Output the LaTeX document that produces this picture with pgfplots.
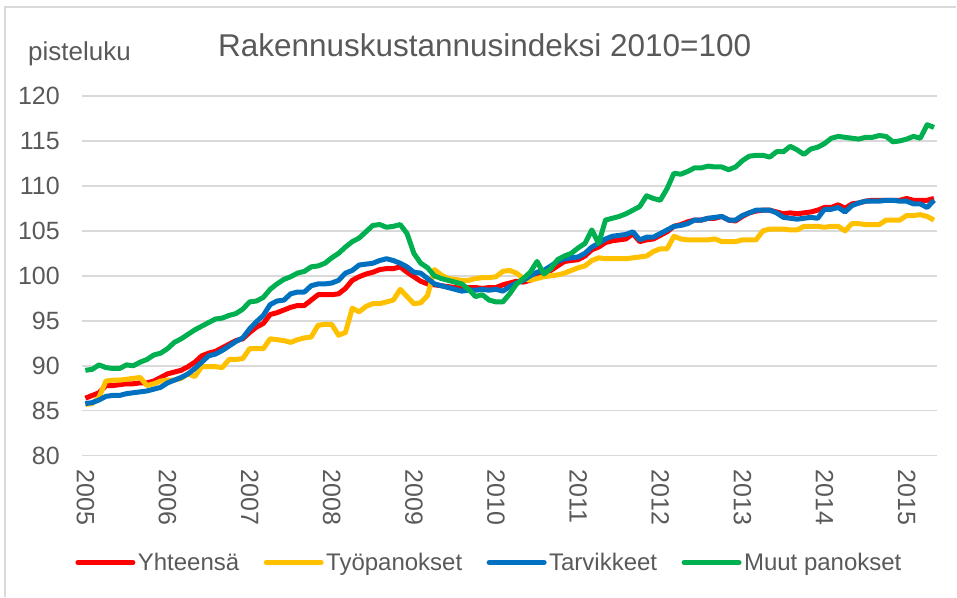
\documentclass[border=0pt]{standalone}
\usepackage{pgfplots}
\usepackage{pgfplotstable}
\usepackage{fontspec}
\setmainfont{Liberation Sans}
\pgfplotsset{compat=1.18}

\definecolor{cRed}{HTML}{FF0000}
\definecolor{cYel}{HTML}{FFC000}
\definecolor{cBlu}{HTML}{0070C0}
\definecolor{cGrn}{HTML}{00B050}
\definecolor{cTxt}{HTML}{595959}
\definecolor{cGrid}{HTML}{D9D9D9}

% month index (0 = 2005/01), Yhteensa, Tyopanokset, Tarvikkeet, Muut panokset
\pgfplotstableread{
m   yht    tyo    tar    muu
0   86.4   85.7   85.8   89.5
1   86.7   85.8   85.9   89.6
2   87.0   86.5   86.2   90.1
3   87.8   88.3   86.6   89.8
4   87.8   88.4   86.7   89.7
5   87.9   88.4   86.7   89.7
6   88.0   88.5   86.9   90.1
7   88.0   88.6   87.0   90.0
8   88.1   88.7   87.1   90.4
9   88.1   87.8   87.2   90.7
10  88.3   88.0   87.4   91.2
11  88.7   88.3   87.6   91.4
12  89.1   88.4   88.1   91.9
13  89.3   88.4   88.4   92.6
14  89.5   88.6   88.7   93.0
15  89.9   89.1   89.1   93.5
16  90.4   88.8   89.7   94.0
17  91.1   89.9   90.4   94.4
18  91.4   89.9   91.1   94.8
19  91.6   89.9   91.3   95.2
20  92.0   89.8   91.7   95.3
21  92.4   90.7   92.2   95.6
22  92.8   90.7   92.7   95.8
23  93.0   90.8   93.1   96.3
24  93.7   91.9   94.1   97.1
25  94.3   91.9   94.9   97.2
26  94.7   91.9   95.6   97.6
27  95.7   93.0   96.8   98.5
28  95.9   92.9   97.2   99.1
29  96.2   92.8   97.3   99.6
30  96.5   92.6   98.0   99.9
31  96.7   92.9   98.2   100.3
32  96.7   93.1   98.2   100.5
33  97.3   93.2   98.9   101.0
34  97.9   94.5   99.1   101.1
35  97.9   94.6   99.1   101.4
36  97.9   94.6   99.2   102.0
37  98.0   93.4   99.5   102.5
38  98.6   93.7   100.3  103.2
39  99.5   96.4   100.6  103.8
40  99.9   96.0   101.2  104.2
41  100.2  96.6   101.3  104.9
42  100.4  96.9   101.4  105.6
43  100.7  96.9   101.7  105.7
44  100.8  97.1   101.9  105.4
45  100.8  97.3   101.7  105.5
46  101.0  98.5   101.4  105.7
47  100.4  97.7   101.0  104.7
48  99.9   96.9   100.4  102.5
49  99.4   97.0   100.3  101.4
50  99.1   97.8   99.7   100.9
51  99.0   100.7  99.1   100.0
52  98.9   100.1  98.9   99.7
53  98.8   99.7   98.7   99.5
54  98.7   99.6   98.5   99.3
55  98.6   99.5   98.3   99.1
56  98.7   99.5   98.4   98.5
57  98.7   99.7   98.4   97.7
58  98.6   99.8   98.5   97.9
59  98.7   99.8   98.4   97.3
60  98.7   99.9   98.5   97.1
61  99.0   100.5  98.3   97.1
62  99.2   100.6  98.8   98.0
63  99.4   100.3  99.2   99.1
64  99.3   99.7   99.5   99.7
65  99.5   99.5   100.0  100.4
66  99.9   99.7   100.4  101.6
67  100.4  99.9   100.6  100.2
68  100.6  100.0  101.1  100.8
69  101.1  100.1  101.6  101.8
70  101.6  100.3  101.9  102.2
71  101.7  100.6  102.0  102.5
72  101.8  100.9  102.1  103.1
73  102.2  101.1  102.5  103.6
74  102.9  101.7  103.2  105.1
75  103.2  102.0  103.6  103.6
76  103.7  101.9  104.1  106.2
77  103.9  101.9  104.4  106.4
78  104.0  101.9  104.5  106.6
79  104.1  101.9  104.6  106.9
80  104.7  102.0  104.9  107.3
81  103.8  102.1  104.0  107.7
82  104.0  102.2  104.3  108.9
83  104.1  102.7  104.3  108.6
84  104.5  103.0  104.7  108.4
85  104.9  103.0  105.1  109.7
86  105.5  104.4  105.5  111.4
87  105.7  104.1  105.6  111.3
88  106.0  104.0  105.8  111.6
89  106.2  104.0  106.2  112.0
90  106.2  104.0  106.2  112.0
91  106.4  104.0  106.4  112.2
92  106.4  104.1  106.5  112.1
93  106.6  103.8  106.6  112.1
94  106.2  103.8  106.2  111.8
95  106.1  103.8  106.2  112.1
96  106.6  104.0  106.7  112.8
97  107.0  104.0  107.0  113.3
98  107.2  104.0  107.3  113.4
99  107.3  105.0  107.3  113.4
100 107.3  105.2  107.3  113.2
101 107.1  105.2  107.0  113.8
102 106.9  105.2  106.5  113.8
103 107.0  105.1  106.4  114.4
104 106.9  105.1  106.3  114.0
105 107.0  105.5  106.4  113.5
106 107.1  105.5  106.5  114.1
107 107.3  105.5  106.4  114.3
108 107.6  105.4  107.4  114.7
109 107.6  105.5  107.4  115.3
110 107.9  105.5  107.6  115.5
111 107.5  105.0  107.1  115.4
112 108.0  105.8  107.8  115.3
113 108.1  105.8  108.1  115.2
114 108.3  105.7  108.3  115.4
115 108.4  105.7  108.3  115.4
116 108.4  105.7  108.3  115.6
117 108.4  106.2  108.4  115.5
118 108.4  106.2  108.4  114.9
119 108.4  106.2  108.3  115.0
120 108.6  106.7  108.3  115.2
121 108.4  106.7  108.0  115.5
122 108.4  106.8  108.0  115.3
123 108.4  106.6  107.6  116.8
124 108.6  106.2  108.4  116.5
}\data

\begin{document}
\begin{tikzpicture}
% fixed page size, 1pt = 1px of the reference
\path (-82pt,-141pt) rectangle (875pt,456pt);
\draw[cGrid, line width=1.2pt] (-77pt,-141pt) -- (-77pt,449pt) -- (875pt,449pt);

\begin{axis}[
    at={(0pt,0pt)}, anchor=south west,
    scale only axis,
    width=856pt, height=360pt,
    xmin=-0.5, xmax=124.5,
    ymin=80, ymax=120,
    ytick={80,85,...,120},
    xtick={0,12,...,120},
    xticklabels={2005,2006,2007,2008,2009,2010,2011,2012,2013,2014,2015},
    axis line style={draw=none},
    tick style={draw=none},
    major tick length=0pt,
    ymajorgrids=true,
    grid style={cGrid, line width=1.5pt},
    /pgf/number format/assume math mode=true,
    /pgf/number format/1000 sep={},
    ticklabel style={font=\fontsize{25}{29}\selectfont, text=cTxt},
    xticklabel style={rotate=-90, anchor=west, inner sep=0pt},
    xticklabel shift=14pt,
    yticklabel style={anchor=east, inner sep=0pt},
    yticklabel shift=22pt,
    legend columns=4,
    legend image code/.code={\draw[#1, line width=5pt, line cap=round] (0pt,0pt) -- (55pt,0pt);},
    legend style={
        at={(0.4766,-0.297)}, anchor=center,
        draw=none, fill=none,
        font=\fontsize{24}{28}\selectfont, text=cTxt,
        nodes={inner sep=2.5pt},
        /tikz/every even column/.append style={column sep=22pt}
    },
]
\addplot[cRed, line width=5pt, line join=round] table[x=m, y=yht] {\data};
\addlegendentry{Yhteensä}
\addplot[cYel, line width=5pt, line join=round] table[x=m, y=tyo] {\data};
\addlegendentry{Työpanokset}
\addplot[cBlu, line width=5pt, line join=round] table[x=m, y=tar] {\data};
\addlegendentry{Tarvikkeet}
\addplot[cGrn, line width=5pt, line join=round] table[x=m, y=muu] {\data};
\addlegendentry{Muut panokset}
\end{axis}

\node[anchor=base, text=cTxt, font=\fontsize{31.5}{36}\selectfont] at (403pt,399.5pt) {Rakennuskustannusindeksi 2010=100};
\node[anchor=base west, inner sep=0pt, text=cTxt, font=\fontsize{26}{30}\selectfont] at (-54pt,395pt) {pisteluku};
\end{tikzpicture}
\end{document}
